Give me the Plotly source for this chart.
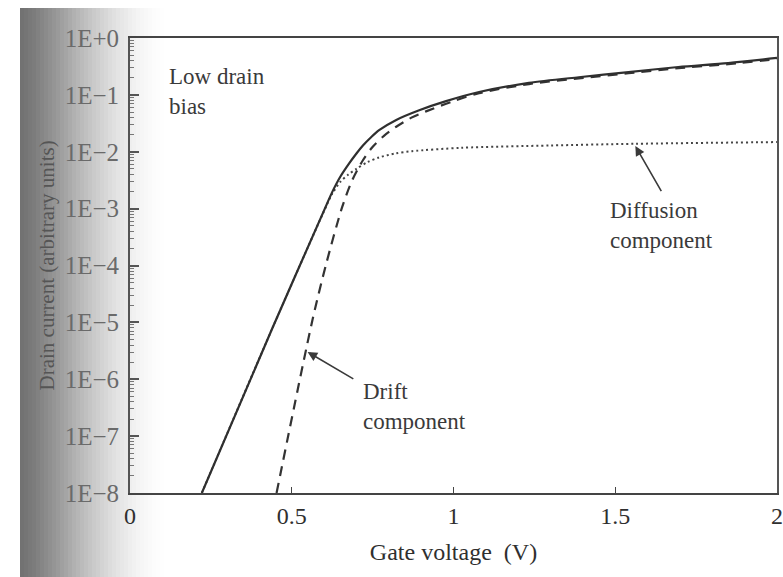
import plotly.graph_objects as go

# ---- data ----
# Gate voltage (V) and log10 of drain current (arbitrary units)
total_v = [0.222, 0.438, 0.600, 0.625, 0.650, 0.678, 0.700, 0.720, 0.746, 0.770, 0.823,
           0.894, 0.977, 1.079, 1.233, 1.387, 1.541, 1.695, 1.849, 2.000]
total_log = [-8.00, -5.13, -3.03, -2.71, -2.44, -2.20, -2.03, -1.89, -1.74, -1.62, -1.44,
             -1.27, -1.11, -0.95, -0.79, -0.69, -0.60, -0.51, -0.44, -0.35]

drift_v = [0.453, 0.564, 0.607, 0.656, 0.687, 0.720, 0.749, 0.785, 0.823, 0.870, 0.915,
           0.995, 1.079, 1.233, 1.387, 1.541, 1.695, 1.849, 2.000]
drift_log = [-8.00, -4.96, -3.96, -2.97, -2.50, -2.15, -1.92, -1.72, -1.56, -1.40, -1.29,
             -1.12, -0.97, -0.81, -0.71, -0.62, -0.53, -0.46, -0.37]

diff_v = [0.222, 0.438, 0.600, 0.625, 0.650, 0.675, 0.700, 0.735, 0.770, 0.820, 0.872, 1.026,
          1.300, 1.562, 2.000]
diff_log = [-8.00, -5.13, -3.04, -2.74, -2.53, -2.40, -2.30, -2.18, -2.10, -2.03, -1.99, -1.93,
            -1.89, -1.86, -1.83]

x_ticks = [0, 0.5, 1, 1.5, 2]
x_ticktext = ["0", "0.5", "1", "1.5", "2"]
y_exps = [0, -1, -2, -3, -4, -5, -6, -7, -8]
y_ticktext = ["1E+0", "1E\u22121", "1E\u22122", "1E\u22123", "1E\u22124",
              "1E\u22125", "1E\u22126", "1E\u22127", "1E\u22128"]

to_cur = lambda arr: [10 ** a for a in arr]

INK = "#2f2f2f"
FONT = "Liberation Serif"

fig = go.Figure()
fig.add_trace(go.Scatter(x=diff_v, y=to_cur(diff_log), mode="lines",
                         line=dict(color="#444444", width=2, dash="2px,3px",
                                   shape="spline", smoothing=0.8),
                         name="Diffusion component"))
fig.add_trace(go.Scatter(x=drift_v, y=to_cur(drift_log), mode="lines",
                         line=dict(color="#333333", width=2.2, dash="10px,7px",
                                   shape="spline", smoothing=0.8),
                         name="Drift component"))
fig.add_trace(go.Scatter(x=total_v, y=to_cur(total_log), mode="lines",
                         line=dict(color=INK, width=2.2, shape="spline", smoothing=0.8),
                         name="Total"))

# ---- scanned-page shading on the left ----
L, R, T, B = 130, 6, 38, 84
W, H = 783 - L - R, 577 - T - B
px = lambda p: (p - L) / W
py = lambda p: (577 - B - p) / H
shapes = []
stops = [(20, 112), (35, 125), (55, 150), (75, 178), (95, 203), (115, 225), (135, 242), (155, 252), (165, 255)]
def shade(xp):
    for (a, ca), (b, cb) in zip(stops[:-1], stops[1:]):
        if a <= xp <= b:
            return ca + (cb - ca) * (xp - a) / (b - a)
    return 255
step = 4
for xs in range(20, 165, step):
    c = int(round(shade(xs + step / 2)))
    shapes.append(dict(type="rect", xref="paper", yref="paper",
                       x0=px(xs), x1=px(xs + step), y0=py(577), y1=py(8),
                       fillcolor=f"rgb({c},{c},{c})", line=dict(width=0), layer="below"))

minor_vals = [k * 10 ** e for e in range(-8, 0) for k in range(2, 10)]

fig.update_layout(
    width=783, height=577,
    margin=dict(l=L, r=R, t=T, b=B, autoexpand=False),
    paper_bgcolor="white", plot_bgcolor="rgba(0,0,0,0)",
    showlegend=False,
    font=dict(family=FONT, size=23, color=INK),
    shapes=shapes,
    xaxis=dict(range=[0, 2], tickvals=x_ticks, ticktext=x_ticktext, automargin=False,
               ticks="inside", ticklen=6, tickwidth=1.2, tickcolor="#444",
               showline=True, linecolor="#444", linewidth=2, mirror=True,
               showgrid=False, zeroline=False,
               tickfont=dict(family=FONT, size=24, color=INK),
               title=dict(text="Gate voltage  (V)",
                          font=dict(family=FONT, size=24, color=INK))),
    yaxis=dict(type="log", range=[-8, 0], automargin=False,
               tickvals=to_cur(y_exps), ticktext=y_ticktext,
               ticks="inside", ticklen=9, tickwidth=1.5, tickcolor="#555",
               ticklabelstandoff=4,
               minor=dict(tickvals=minor_vals, ticks="inside", ticklen=4,
                          tickwidth=1, tickcolor="#777", showgrid=False),
               showline=True, linecolor="#555", linewidth=2, mirror=True,
               showgrid=False, zeroline=False,
               tickfont=dict(family=FONT, size=25, color="#6a6a6a")),
)

ann = []
ann.append(dict(x=px(46), y=0.5, xref="paper", yref="paper",
                text="Drain current (arbitrary units)", textangle=-90, showarrow=False,
                xanchor="center", yanchor="middle",
                font=dict(family=FONT, size=21, color="#555555")))
ann.append(dict(x=0.114, y=-0.42, xref="x", yref="y", text="Low drain<br>bias",
                showarrow=False, xanchor="left", yanchor="top", align="left",
                font=dict(family=FONT, size=23, color="#3a3a3a")))
ann.append(dict(x=1.479, y=-2.78, xref="x", yref="y", text="Diffusion<br>component",
                showarrow=False, xanchor="left", yanchor="top", align="left",
                font=dict(family=FONT, size=23, color="#3a3a3a")))
ann.append(dict(x=0.715, y=-5.96, xref="x", yref="y", text="Drift<br>component",
                showarrow=False, xanchor="left", yanchor="top", align="left",
                font=dict(family=FONT, size=23, color="#3a3a3a")))
# arrows
ann.append(dict(x=1.562, y=-1.90, ax=1.645, ay=-2.72, xref="x", yref="y",
                axref="x", ayref="y", text="", showarrow=True, arrowhead=2,
                arrowsize=1.2, arrowwidth=1.6, arrowcolor="#3a3a3a"))
ann.append(dict(x=0.549, y=-5.52, ax=0.695, ay=-6.01, xref="x", yref="y",
                axref="x", ayref="y", text="", showarrow=True, arrowhead=2,
                arrowsize=1.2, arrowwidth=1.6, arrowcolor="#3a3a3a"))
fig.update_layout(annotations=ann)

fig.write_html("out.html", config={"displayModeBar": False},
               post_script="document.body.style.margin='0px';document.body.style.overflow='hidden';")
